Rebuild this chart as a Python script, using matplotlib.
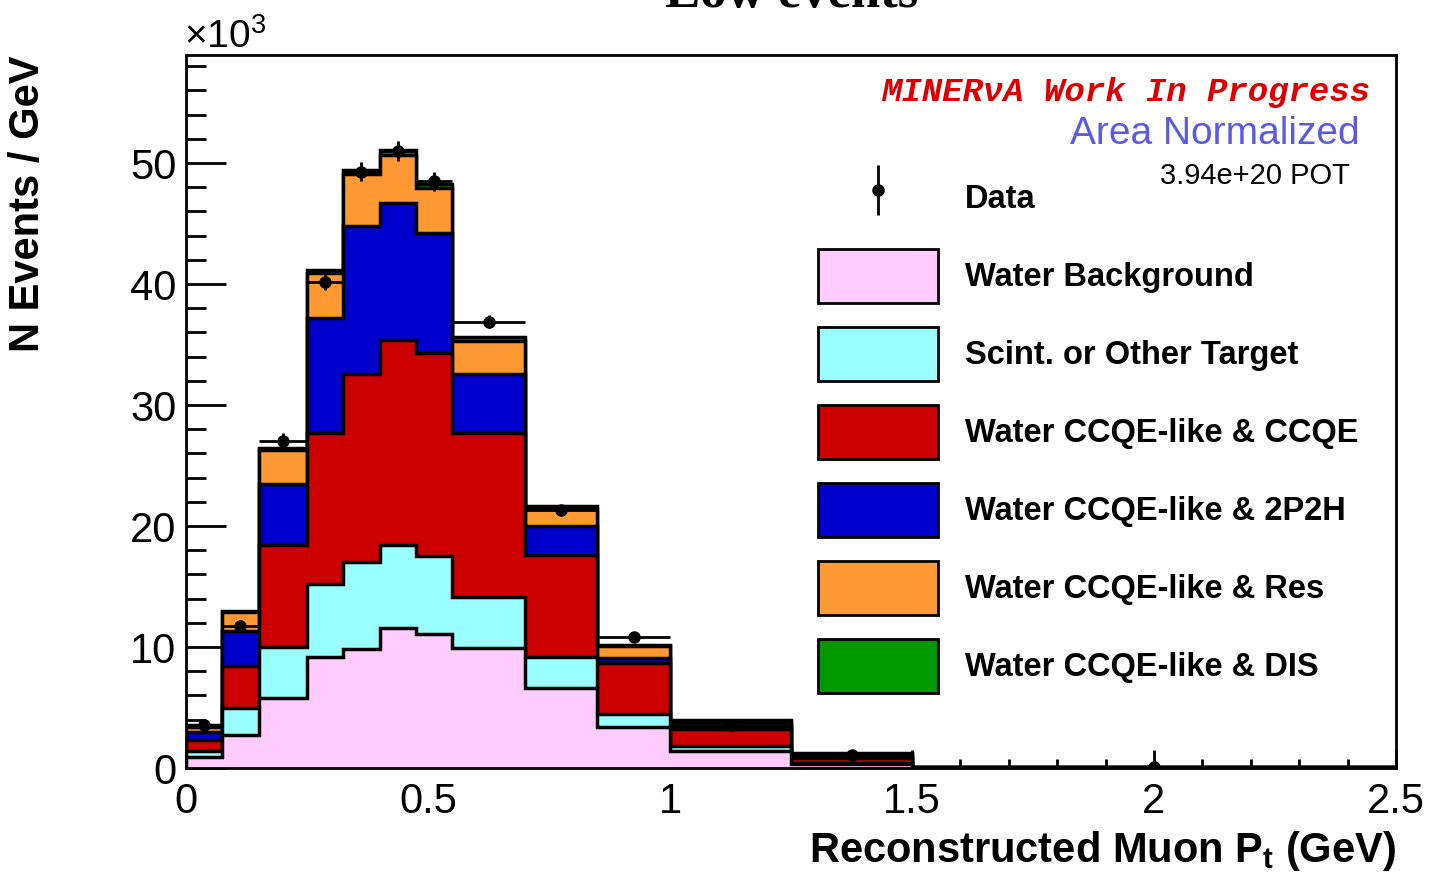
import numpy as np
import matplotlib
matplotlib.use("Agg")
import matplotlib.pyplot as plt
from matplotlib.legend_handler import HandlerErrorbar
from matplotlib.patches import Patch
from matplotlib.ticker import MultipleLocator

plt.rcParams['font.family'] = ['Liberation Sans', 'DejaVu Sans']
plt.rcParams['mathtext.fontset'] = 'custom'
plt.rcParams['mathtext.rm'] = 'Liberation Sans'
plt.rcParams['mathtext.bf'] = 'Liberation Sans:bold'
plt.rcParams['mathtext.it'] = 'Liberation Sans:italic'

# ---- data (N events / GeV, in units of 10^3) ----
bin_edges = [0, 0.075, 0.15, 0.25, 0.325, 0.4, 0.475, 0.55, 0.7, 0.85, 1.0, 1.25, 1.5, 2.5]
water_background = [0.93, 2.7, 5.8, 9.2, 9.8, 11.6, 11.1, 9.9, 6.6, 3.4, 1.4, 0.33, 0.02]
scint_other      = [0.50, 2.25, 4.2, 6.0, 7.25, 6.8, 6.4, 4.2, 2.6, 1.1, 0.4, 0.07, 0.01]
ccqe             = [0.87, 3.45, 8.4, 12.5, 15.55, 17.0, 16.8, 13.6, 8.4, 4.15, 1.4, 0.40, 0.02]
twop2h           = [0.70, 2.95, 5.1, 9.5, 12.2, 11.3, 9.9, 4.9, 2.4, 0.41, 0.3, 0.15, 0.01]
res              = [0.40, 1.55, 2.8, 3.7, 4.3, 4.0, 3.7, 2.7, 1.4, 1.04, 0.3, 0.20, 0.01]
dis              = [0.15, 0.10, 0.15, 0.3, 0.3, 0.4, 0.4, 0.35, 0.25, 0.10, 0.15, 0.10, 0.01]
data_values      = [3.55, 11.7, 27.05, 40.2, 49.3, 51.0, 48.5, 36.9, 21.3, 10.8, 3.55, 1.1, 0.05]
data_errors      = [0.3, 0.5, 0.6, 0.7, 0.8, 0.8, 0.8, 0.5, 0.4, 0.3, 0.15, 0.1, 0.02]

labels = ["Water Background", "Scint. or Other Target", "Water CCQE-like & CCQE",
          "Water CCQE-like & 2P2H", "Water CCQE-like & Res", "Water CCQE-like & DIS"]
colors = ["#FFCCFF", "#99FFFF", "#CC0000", "#0000CC", "#FF9933", "#009900"]

components = [water_background, scint_other, ccqe, twop2h, res, dis]

fig = plt.figure(figsize=(14.31, 8.73), dpi=100)
ax = fig.add_axes([186/1431, 1-768/873, (1396-186)/1431, (768-55)/873])

edges = np.array(bin_edges)
cum = np.cumsum(np.array(components), axis=0)
# draw from the largest cumulative down (ROOT THStack style)
for i in range(len(components)-1, -1, -1):
    ax.stairs(cum[i], edges, baseline=0, fill=True, facecolor=colors[i],
              edgecolor='none', zorder=2+(5-i)*0.1)
    ax.stairs(cum[i], edges, baseline=0, fill=False, color='black',
              linewidth=2.5, zorder=2.05+(5-i)*0.1)

centers = 0.5*(edges[1:]+edges[:-1])
halfw = 0.5*(edges[1:]-edges[:-1])
eb = ax.errorbar(centers, data_values, xerr=halfw, yerr=data_errors, fmt='o',
                 color='black', ms=8, elinewidth=2, capsize=0, zorder=5)

ax.set_xlim(0, 2.5)
ax.set_ylim(0, 58.93)
ax.xaxis.set_major_locator(MultipleLocator(0.5))
ax.xaxis.set_minor_locator(MultipleLocator(0.1))
ax.yaxis.set_major_locator(MultipleLocator(10))
ax.yaxis.set_minor_locator(MultipleLocator(2))
ax.set_xticks([0, 0.5, 1, 1.5, 2, 2.5])
ax.set_xticklabels(["0", "0.5", "1", "1.5", "2", "2.5"])
ax.tick_params(axis='y', which='major', direction='in', length=29, width=2,
               labelsize=30, pad=7, right=False)
ax.tick_params(axis='y', which='minor', direction='in', length=14.5, width=2, right=False)
ax.tick_params(axis='x', which='major', direction='in', length=13, width=2,
               labelsize=30, pad=10, top=False)
ax.tick_params(axis='x', which='minor', direction='in', length=6.5, width=2, top=False)
for s in ax.spines.values():
    s.set_linewidth(2)

fig.text(28/1431, 1-55/873, "N Events / GeV", rotation=90, ha='center', va='top',
         fontsize=30, fontweight='bold')
fig.text(1396/1431, 1-862/873, r"Reconstructed Muon P$_\mathbf{t}$ (GeV)",
         ha='right', va='baseline', fontsize=30, fontweight='bold')
fig.text(184/1431, 1-48/873, r"$\times$10$^3$", ha='left', va='baseline', fontsize=28)
fig.text(792/1431, 1-7/873, "Low events", ha='center', va='baseline', fontsize=38,
         fontweight='bold', family=['Liberation Serif', 'DejaVu Serif'])

fig.text(1370/1431, 1-92/873, "MINER\u03bdA Work In Progress", ha='right', va='center',
         fontsize=24.5, fontweight='bold', fontstyle='italic', color='#DD0000',
         family=['Liberation Mono', 'DejaVu Sans Mono'])
fig.text(1360/1431, 1-134/873, "Area Normalized", ha='right', va='center',
         fontsize=28, color='#5A5AE6')
fig.text(1350/1431, 1-176/873, "3.94e+20 POT", ha='right', va='center', fontsize=21)

fs = 23.5
fs_px = fs * 100 / 72
handles = [eb] + [Patch(facecolor=c, edgecolor='black', linewidth=2) for c in colors]
leg = fig.legend(handles, ["Data"] + labels, loc='upper left',
                 bbox_to_anchor=(818/1431, 1-171/873), frameon=False,
                 prop={'weight': 'bold', 'size': fs}, handlelength=120/fs_px,
                 handleheight=((54/fs_px) - 0.245)/0.65, labelspacing=24/fs_px,
                 handletextpad=27/fs_px, borderpad=0, borderaxespad=0,
                 handler_map={type(eb): HandlerErrorbar(xerr_size=0, yerr_size=25/fs_px)})

fig.savefig("out.png", dpi=100)
